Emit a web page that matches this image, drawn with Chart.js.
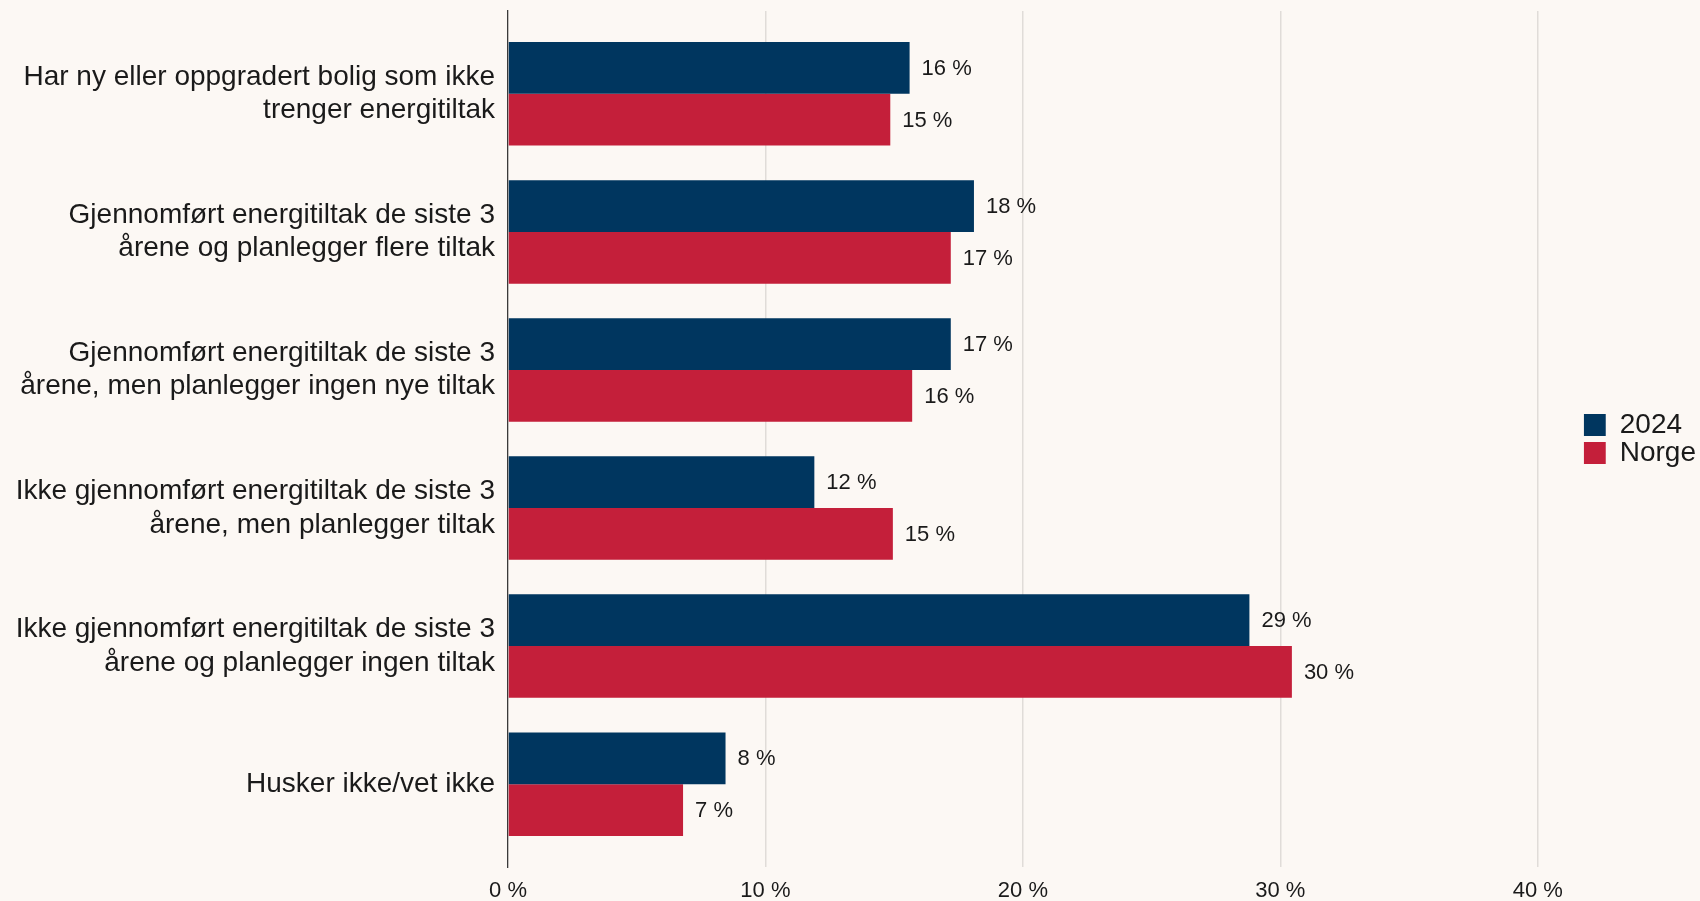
<!DOCTYPE html>
<html>
<head>
<meta charset="utf-8">
<script src="https://cdn.jsdelivr.net/npm/chart.js@4/dist/chart.umd.min.js"></script>
<style>
  html, body { margin: 0; padding: 0; background: #fcf8f4; }
  #wrap { width: 1700px; height: 901px; position: relative; }
  canvas { display: block; }
</style>
</head>
<body>
<div id="wrap"><canvas id="c" width="1700" height="901"></canvas></div>
<script>
// ---- Data ----
const categories = [
  ["Har ny eller oppgradert bolig som ikke", "trenger energitiltak"],
  ["Gjennomført energitiltak de siste 3", "årene og planlegger flere tiltak"],
  ["Gjennomført energitiltak de siste 3", "årene, men planlegger ingen nye tiltak"],
  ["Ikke gjennomført energitiltak de siste 3", "årene, men planlegger tiltak"],
  ["Ikke gjennomført energitiltak de siste 3", "årene og planlegger ingen tiltak"],
  ["Husker ikke/vet ikke"]
];
const seriesNames = ["2024", "Norge"];
const values2024 = [15.6, 18.1, 17.2, 11.9, 28.8, 8.45];
const valuesNorge = [14.85, 17.2, 15.7, 14.95, 30.45, 6.8];
const xTickValues = [0, 10, 20, 30, 40];

// ---- Styles ----
const BG = '#fcf8f4';
const BLUE = '#00365f';
const RED = '#c41f3a';
const FONT = "'Liberation Sans', Arial, Helvetica, sans-serif";
const TEXT = '#1a1a1a';

const bgPlugin = {
  id: 'bg',
  beforeDraw(chart) {
    const ctx = chart.ctx;
    ctx.save();
    ctx.fillStyle = BG;
    ctx.fillRect(0, 0, chart.width, chart.height);
    ctx.restore();
  }
};

const valueLabels = {
  id: 'valueLabels',
  afterDatasetsDraw(chart) {
    const ctx = chart.ctx;
    ctx.save();
    ctx.font = "22px " + FONT;
    ctx.fillStyle = TEXT;
    ctx.textAlign = 'left';
    ctx.textBaseline = 'middle';
    chart.data.datasets.forEach((ds, i) => {
      const meta = chart.getDatasetMeta(i);
      meta.data.forEach((bar, j) => {
        const v = ds.data[j].x;
        ctx.fillText(Math.round(v) + ' %', bar.x + 12, bar.y + 1);
      });
    });
    ctx.restore();
  }
};

const toPoints = arr => arr.map((v, i) => ({ x: v, y: i }));
const noPad = s => { s.paddingTop = 0; s.paddingBottom = 0; };

new Chart(document.getElementById('c'), {
  type: 'bar',
  data: {
    datasets: [
      { label: seriesNames[0], data: toPoints(values2024), backgroundColor: BLUE, borderWidth: 0 },
      { label: seriesNames[1], data: toPoints(valuesNorge), backgroundColor: RED, borderWidth: 0 }
    ]
  },
  options: {
    indexAxis: 'y',
    responsive: false,
    animation: false,
    devicePixelRatio: 1,
    layout: { padding: { top: 11, right: -6, bottom: 0, left: 0 } },
    datasets: { bar: { categoryPercentage: 0.75, barPercentage: 1 } },
    scales: {
      x: {
        type: 'linear',
        min: 0,
        max: 40,
        afterBuildTicks(s) { s.ticks = xTickValues.map(v => ({ value: v })); },
        ticks: {
          callback: v => v + ' %',
          font: { family: FONT, size: 22 },
          color: TEXT,
          padding: 11,
          maxRotation: 0
        },
        grid: {
          drawTicks: false,
          color: c => (c.tick && c.tick.value === 0) ? 'rgba(0,0,0,0)' : '#e0dcd8',
          lineWidth: 1.5
        },
        border: { display: false },
        afterFit(s) { s.height = 34; }
      },
      y: {
        type: 'linear',
        reverse: true,
        offset: false,
        bounds: 'data',
        min: -0.6,
        max: 5.6,
        afterBuildTicks(s) { s.ticks = categories.map((_, i) => ({ value: i })); },
        ticks: {
          autoSkip: false,
          callback: v => categories[v] || '',
          font: { family: FONT, size: 28, lineHeight: 1.2 },
          color: TEXT,
          padding: 13
        },
        grid: { display: false, drawTicks: false, offset: false },
        border: { display: true, color: '#3a3a3a', width: 1.3 },
        afterFit(s) { s.width = 508; noPad(s); }
      },
      spacer: {
        type: 'linear',
        axis: 'y',
        position: 'right',
        display: true,
        grid: { display: false, drawTicks: false },
        border: { display: false },
        ticks: { display: false },
        afterFit(s) { s.width = 46; noPad(s); }
      }
    },
    plugins: {
      legend: {
        position: 'right',
        align: 'center',
        fullSize: false,
        labels: {
          boxWidth: 22,
          boxHeight: 22,
          padding: 0,
          font: { family: FONT, size: 28 },
          color: TEXT
        }
      },
      tooltip: { enabled: false }
    }
  },
  plugins: [bgPlugin, valueLabels]
});
</script>
</body>
</html>
